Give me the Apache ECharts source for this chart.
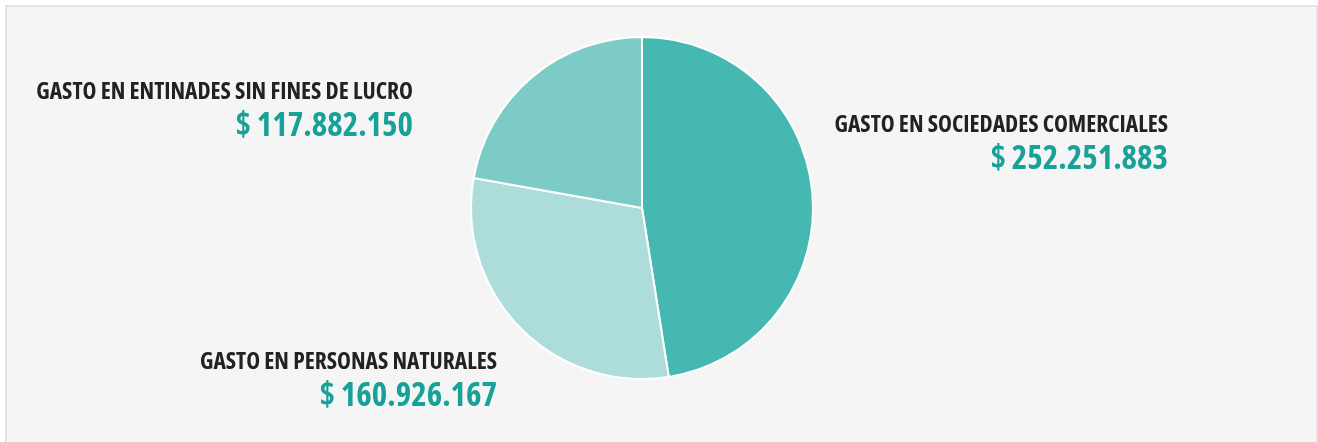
<!DOCTYPE html>
<html>
<head>
<meta charset="utf-8">
<title>Gasto</title>
<script src="https://cdn.jsdelivr.net/npm/echarts@6/dist/echarts.min.js"></script>
<style>
  html, body {
    margin: 0;
    padding: 0;
    background: #fff;
    overflow: hidden;
  }
  .panel {
    position: absolute;
    left: 5px;
    top: 5px;
    width: 1309px;
    height: 460px;
    background: #f5f5f5;
    border: 2px solid #e3e3e3;
  }
  #chart {
    position: absolute;
    left: 0;
    top: 0;
    width: 1318px;
    height: 442px;
  }
</style>
</head>
<body>
<div class="panel"></div>
<div id="chart"></div>
<script>
// datos del gráfico
const categories = [
  'GASTO EN SOCIEDADES COMERCIALES',
  'GASTO EN PERSONAS NATURALES',
  'GASTO EN ENTINADES SIN FINES DE LUCRO'
]
const values = [252251883, 160926167, 117882150]
const colors = ['#45b8b2', '#acdddb', '#7dcbc7']

// posición de cada etiqueta (borde derecho, parte superior)
const labelPos = [
  { x: 1168, y: 111 },
  { x: 497, y: 348 },
  { x: 413, y: 78 }
]

const fmt = (n) => '$ ' + String(n).replace(/\B(?=(\d{3})+(?!\d))/g, '.')

// Open Sans condensada (eje de anchura de la fuente variable)
const font = "'Open Sans', sans-serif"

const myChart = echarts.init(document.getElementById('chart'))

const option = {
  animation: false,
  series: [
    {
      type: 'pie',
      center: [642, 208],
      radius: 171,
      startAngle: 90,
      clockwise: true,
      data: categories.map((name, i) => ({
        name,
        value: values[i],
        itemStyle: { color: colors[i] }
      })),
      itemStyle: {
        borderColor: '#ffffff',
        borderWidth: 2
      },
      label: {
        show: true,
        position: 'outside',
        formatter: (p) => '{t|' + p.name + '}\n{v|' + fmt(p.value) + '}',
        rich: {
          t: {
            fontFamily: font,
            fontWeight: 'bold condensed',
            fontSize: 23.5,
            color: '#222222',
            lineHeight: 28,
            align: 'right'
          },
          v: {
            fontFamily: font,
            fontWeight: 'bold condensed',
            fontSize: 33,
            color: '#17a199',
            lineHeight: 42,
            align: 'right'
          }
        }
      },
      labelLine: { show: false },
      labelLayout: (params) => {
        const pos = labelPos[params.dataIndex]
        return {
          x: pos.x,
          y: pos.y,
          align: 'right',
          verticalAlign: 'top'
        }
      },
      emphasis: { disabled: true }
    }
  ]
}

myChart.setOption(option)
</script>
</body>
</html>
